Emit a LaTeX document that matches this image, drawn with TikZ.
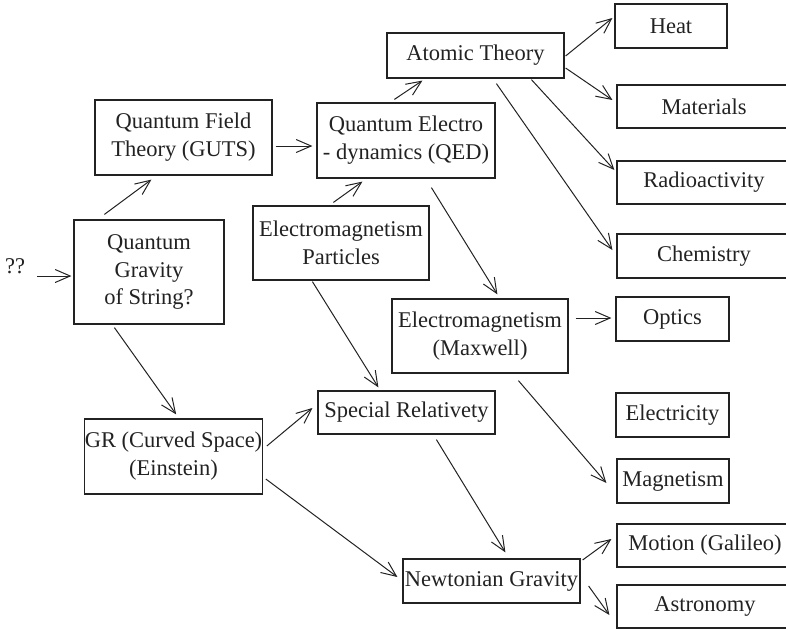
\documentclass[tikz,border=0pt]{standalone}
\usepackage{fontspec}
\setmainfont{Liberation Serif}
\usetikzlibrary{arrows.meta}
\definecolor{ink}{HTML}{222222}
\begin{document}
\begin{tikzpicture}[x=1pt,y=-1pt,
  box/.style={draw=ink,line width=1.2pt,inner sep=0pt,align=center,text=ink,
    font=\fontsize{22.5}{28}\selectfont},
  arr/.style={draw=ink,line width=1pt,-{Straight Barb[length=15pt,width=13pt]}},
  lbl/.style={inner sep=0pt,text=ink,font=\fontsize{22.5}{28}\selectfont}]
\useasboundingbox (0,0) rectangle (786,629);
% nodes
\node[lbl] (qq) at (15,266) {??};
\node[box,minimum width=150pt,minimum height=104pt,font=\fontsize{22.5}{27.5}\selectfont] (QG) at (149,272) {Quantum\\Gravity\\of String?};
\node[box,minimum width=177pt,minimum height=75pt] (QFT) at (183.5,137.5) {Quantum Field\\Theory (GUTS)};
\node[box,minimum width=178pt,minimum height=75pt] (QED) at (406,140.5) {Quantum Electro\\- dynamics (QED)};
\node[box,minimum width=177pt,minimum height=45pt] (AT) at (475.5,55.5) {Atomic Theory};
\node[box,minimum width=112pt,minimum height=44pt] (Heat) at (671,26) {Heat};
\node[box,minimum width=174pt,minimum height=43pt] (Mat) at (704,106.5) {Materials};
\node[box,minimum width=174pt,minimum height=43pt] (Rad) at (704,182.5) {Radioactivity};
\node[box,minimum width=174pt,minimum height=44pt] (Chem) at (704,256) {Chemistry};
\node[box,minimum width=176pt,minimum height=74pt] (EP) at (341,243) {Electromagnetism\\Particles};
\node[box,minimum width=176pt,minimum height=74pt] (MX) at (480,336) {Electromagnetism\\(Maxwell)};
\node[box,minimum width=113pt,minimum height=44pt] (Opt) at (672.5,319) {Optics};
\node[box,minimum width=113pt,minimum height=44pt] (Elec) at (672.5,415) {Electricity};
\node[box,minimum width=112pt,minimum height=44pt] (Mag) at (673,481) {Magnetism};
\node[box,minimum width=177pt,minimum height=43pt] (SR) at (406.5,412.5) {Special Relativety};
\node[box,minimum width=177pt,minimum height=75pt] (GR) at (173.5,456.5) {GR (Curved Space)\\(Einstein)};
\node[box,minimum width=177pt,minimum height=44pt] (NG) at (491.5,581) {Newtonian Gravity};
\node[box,minimum width=176pt,minimum height=43pt] (Mot) at (705,545.5) {Motion (Galileo)};
\node[box,minimum width=176pt,minimum height=43pt] (Ast) at (705,606.5) {Astronomy};
% connectors
\draw[arr] ([xshift=12pt,yshift=-10pt]qq.east) -- ([xshift=-2pt,yshift=-4pt]QG.west);
\draw[arr] ([xshift=31pt,yshift=5pt]QG.north west) -- ([xshift=57pt,yshift=-4pt]QFT.south west);
\draw[arr] ([xshift=3pt,yshift=-8.5pt]QFT.east) -- ([xshift=-4pt,yshift=-5.5pt]QED.west);
\draw[arr] ([xshift=78pt,yshift=3pt]QED.north west) -- ([xshift=36pt,yshift=-2pt]AT.south west);
\draw[arr] ([xshift=1pt,yshift=-0.5pt]AT.east) -- ([xshift=-2pt,yshift=8pt]Heat.west);
\draw[arr] ([xshift=1pt,yshift=-12.5pt]AT.east) -- ([xshift=-4pt,yshift=6.5pt]Mat.west);
\draw[arr] ([xshift=145pt,yshift=-1pt]AT.south west) -- ([xshift=-2pt,yshift=12.5pt]Rad.west);
\draw[arr] ([xshift=110pt,yshift=-5pt]AT.south west) -- ([xshift=-4pt,yshift=6pt]Chem.west);
\draw[arr] ([xshift=81pt,yshift=3pt]EP.north west) -- ([xshift=46pt,yshift=-3pt]QED.south west);
\draw[arr] ([xshift=60pt,yshift=-1pt]EP.south west) -- ([xshift=61pt,yshift=3pt]SR.north west);
\draw[arr] ([xshift=115pt,yshift=-9pt]QED.south west) -- ([xshift=106pt,yshift=4pt]MX.north west);
\draw[arr] ([xshift=7pt,yshift=18pt]MX.east) -- ([xshift=-4pt,yshift=1pt]Opt.west);
\draw[arr] ([xshift=127pt,yshift=-7pt]MX.south west) -- ([xshift=-10pt,yshift=-2pt]Mag.west);
\draw[arr] ([xshift=41pt,yshift=-3pt]QG.south west) -- ([xshift=92pt,yshift=4pt]GR.north west);
\draw[arr] ([xshift=4pt,yshift=10.5pt]GR.east) -- ([xshift=-5pt,yshift=4.5pt]SR.west);
\draw[arr] ([xshift=3pt,yshift=-22.5pt]GR.east) -- ([xshift=-5pt,yshift=4pt]NG.west);
\draw[arr] ([xshift=119pt,yshift=-5pt]SR.south west) -- ([xshift=103pt,yshift=6pt]NG.north west);
\draw[arr] ([xshift=2pt,yshift=21pt]NG.east) -- ([xshift=-5pt,yshift=6.5pt]Mot.west);
\draw[arr] ([xshift=8pt,yshift=-5pt]NG.east) -- ([xshift=-7pt,yshift=-8.5pt]Ast.west);
\end{tikzpicture}
\end{document}
